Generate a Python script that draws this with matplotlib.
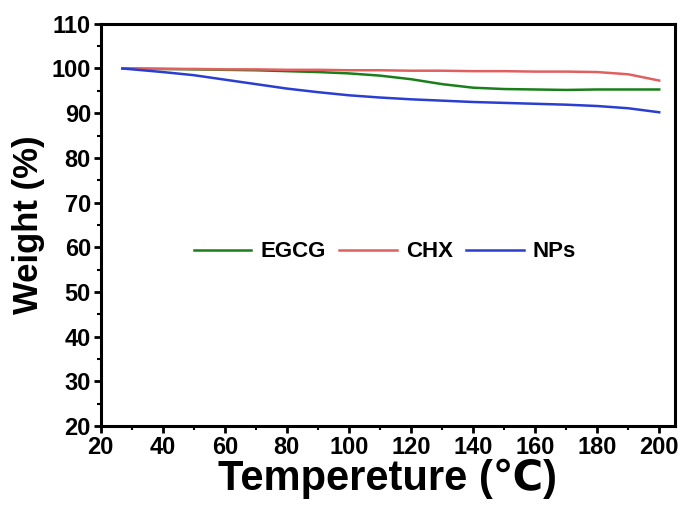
import matplotlib
matplotlib.use("Agg")
import matplotlib.pyplot as plt
from matplotlib.ticker import MultipleLocator

plt.rcParams['font.family'] = ['Liberation Sans', 'DejaVu Sans']
plt.rcParams['font.weight'] = 'bold'

# temperature (C) and weight (%)
temp = [27, 40, 50, 60, 70, 80, 90, 100, 110, 120, 130, 140, 150, 160, 170, 180, 190, 200]
egcg = [100, 99.9, 99.8, 99.7, 99.6, 99.4, 99.2, 98.9, 98.4, 97.6, 96.5, 95.7, 95.4, 95.3, 95.2, 95.3, 95.3, 95.3]
chx = [100, 99.9, 99.9, 99.8, 99.8, 99.7, 99.7, 99.6, 99.6, 99.5, 99.5, 99.4, 99.4, 99.3, 99.3, 99.2, 98.7, 97.3]
nps = [100, 99.2, 98.5, 97.5, 96.5, 95.5, 94.7, 94.0, 93.5, 93.1, 92.8, 92.5, 92.3, 92.1, 91.9, 91.6, 91.1, 90.2]

fig = plt.figure(figsize=(6.85, 5.17), dpi=100)
ax = fig.add_axes([0.147, 0.176, 0.838, 0.778])

ax.plot(temp, egcg, color='#1a7f1a', lw=1.8, label='EGCG')
ax.plot(temp, chx, color='#e06060', lw=1.8, label='CHX')
ax.plot(temp, nps, color='#2a3fd0', lw=1.8, label='NPs')

ax.set_xlim(20, 205)
ax.set_ylim(20, 110)
ax.xaxis.set_major_locator(MultipleLocator(20))
ax.xaxis.set_minor_locator(MultipleLocator(10))
ax.yaxis.set_major_locator(MultipleLocator(10))
ax.yaxis.set_minor_locator(MultipleLocator(5))
ax.tick_params(which='major', direction='out', length=5, width=2, labelsize=17, pad=2)
ax.tick_params(which='minor', direction='out', length=3, width=1.5)
for lab in ax.get_xticklabels() + ax.get_yticklabels():
    lab.set_fontweight('bold')
for sp in ax.spines.values():
    sp.set_linewidth(2.2)

ax.set_xlabel('Tempereture (℃)', fontsize=30, fontweight='bold', labelpad=0)
ax.set_ylabel('Weight (%)', fontsize=25, fontweight='bold', labelpad=5)

ax.legend(loc='center', bbox_to_anchor=(0.495, 0.433), ncol=3, frameon=False,
          prop={'size': 16, 'weight': 'bold'}, handlelength=2.6, columnspacing=0.6,
          handletextpad=0.4)

fig.savefig('out.png', dpi=100)
